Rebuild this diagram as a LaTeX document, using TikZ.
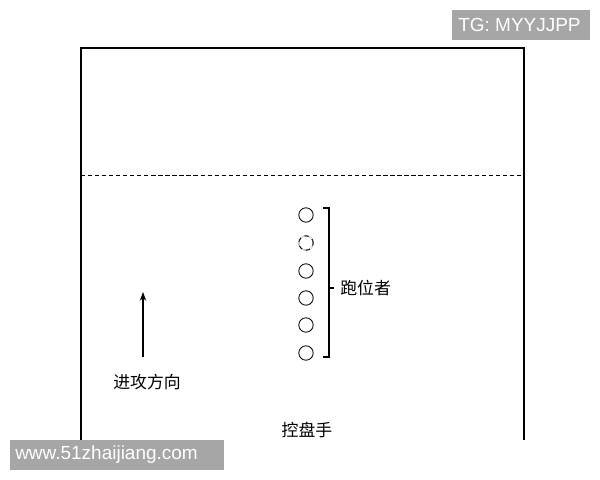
\documentclass[tikz,border=0pt]{standalone}
\usepackage{fontspec}
\setmainfont{Liberation Sans}
\newfontfamily\cjk{Noto Sans CJK SC}
\usetikzlibrary{arrows.meta, positioning}

\begin{document}
\begin{tikzpicture}[
            x=0.025cm, y=-0.025cm,            % one unit = one pixel of the page
            >={Stealth[length=2.2mm,width=1.6mm]}, % arrow tip style
            runner/.style={circle,draw,line width=0.6pt,minimum size=0.36cm,inner sep=0pt},
            cntext/.style={font=\cjk\fontsize{12}{14}\selectfont,inner sep=0pt},
            wmark/.style={fill=black!35,text=white,font=\fontsize{13.5}{15}\selectfont,inner sep=0pt}
          ]
          \useasboundingbox (0,0) rectangle (600,480);

          % field, open at the bottom
          \draw[line width=1pt] (81,440) -- (81,48) -- (524,48) -- (524,440);
          \draw[line width=0.7pt,dash pattern=on 3pt off 2pt] (81,175) -- (524,175);

          % runners
          \foreach \i/\y in {1/215,2/243,3/271,4/298,5/325,6/353}
            \node[runner] (r\i) at (306,\y) {};
          \node[runner,draw=white] at (r2) {};
          \node[runner,dashed] at (r2) {};

          % bracket
          \coordinate (bt) at (329,208);
          \coordinate (bb) at (329,357);
          \coordinate (bm) at (329,288);
          \draw[line width=0.8pt] ([xshift=-0.14cm]bt) -- (bt) -- (bb) -- ([xshift=-0.14cm]bb);
          \draw[line width=0.8pt] (bm) -- ([xshift=0.12cm]bm);
          \node[cntext,anchor=west] (runlbl) at (340,288) {跑位者};

          % direction of attack
          \coordinate (a0) at (143,357);
          \coordinate (a1) at (143,292);
          \draw[->,line width=0.8pt] (a0) -- (a1);
          \node[cntext] (dirlbl) at (147,382) {进攻方向};

          \node[cntext] (ballhandler) at (307,430) {控盘手};

          % watermarks
          \fill[black!35] (452,10) rectangle (590,40);
          \node[wmark,anchor=west] (tg) at (458,25) {TG: MYYJJPP};
          \fill[black!35] (10,440) rectangle (224,470);
          \node[wmark,anchor=west] (site) at (15,455) {www.51zhaijiang.com};
        \end{tikzpicture}
\end{document}
